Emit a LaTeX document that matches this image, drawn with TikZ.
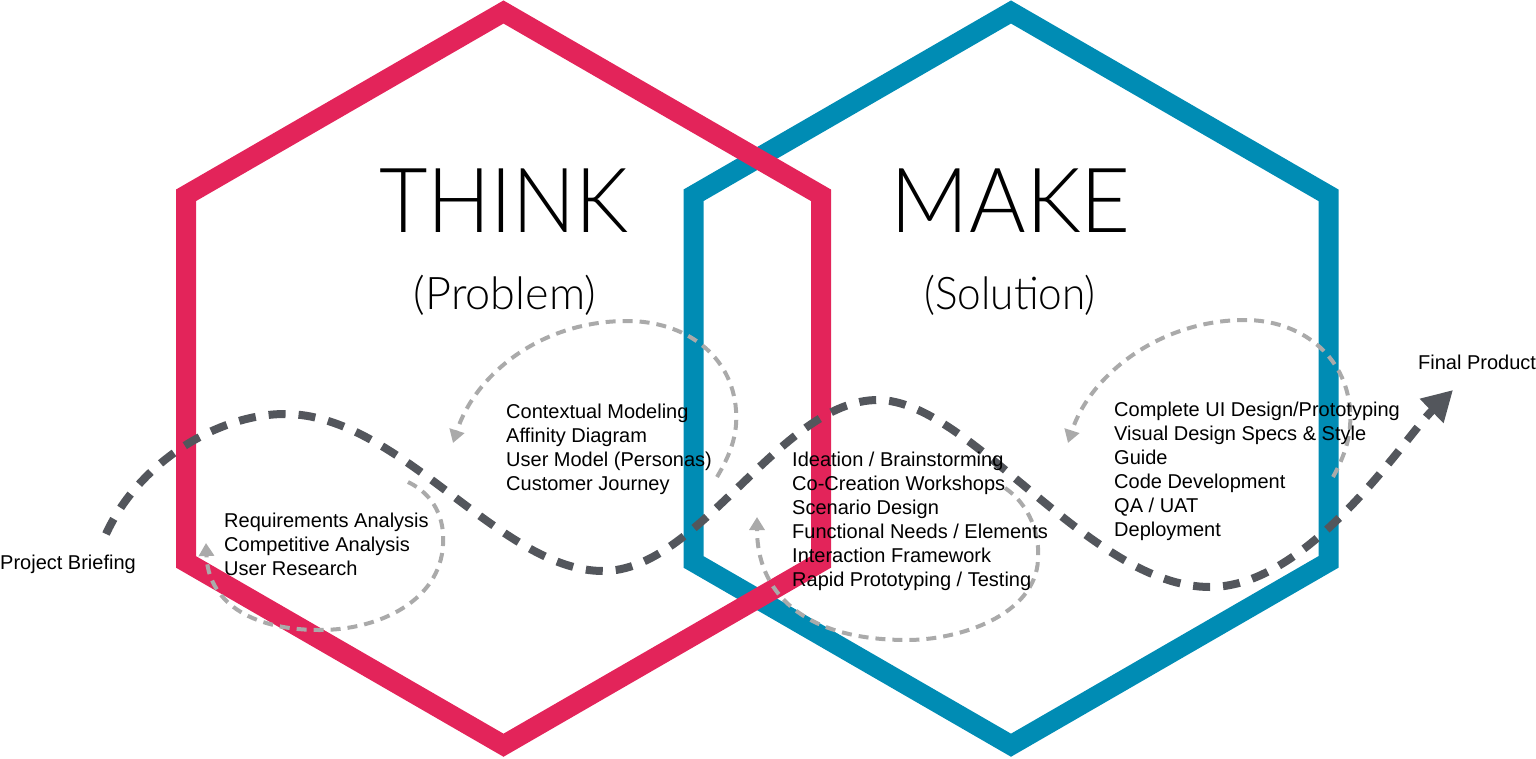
\documentclass[tikz,border=0pt]{standalone}
\usepackage{fontspec}
\setmainfont{Liberation Sans}
\IfFontExistsTF{Lato Light}{\newfontfamily\thinfont{Lato Light}}{%
  \IfFontExistsTF{Lato Thin}{\newfontfamily\thinfont{Lato Thin}}{\newfontfamily\thinfont{Liberation Sans}}}
\usetikzlibrary{arrows.meta}
\definecolor{hexred}{HTML}{E3245A}
\definecolor{hexblue}{HTML}{008CB4}
\definecolor{flowdark}{HTML}{53565C}
\definecolor{loopgray}{HTML}{AAAAAA}
\begin{document}
\begin{tikzpicture}[x=1pt,y=-1pt,
  hexline/.style={line width=20pt, line join=miter, miter limit=4},
  mainflow/.style={draw=flowdark, line width=8pt, dash pattern=on 17pt off 13pt,
    -{Triangle[length=30pt,width=32pt]}},
  loopflow/.style={draw=loopgray, line width=4pt, dash pattern=on 10pt off 7pt,
    -{Triangle[length=13pt,width=15pt]}},
  itemtext/.style={anchor=base west, inner sep=0pt, font=\fontsize{20}{24}\selectfont},
  bigtitle/.style={anchor=base, inner sep=0pt, font=\thinfont\fontsize{90}{90}\selectfont},
  subtitle/.style={anchor=base, inner sep=0pt, font=\thinfont\fontsize{45}{45}\selectfont}]
\useasboundingbox (0,0) rectangle (1536,758);

% hexagons (blue under red)
\draw[hexline, draw=hexblue] (1011,12) -- (1328.5,195.3) -- (1328.5,561.9) -- (1011,745.2)
  -- (693.5,561.9) -- (693.5,195.3) -- cycle;
\draw[hexline, draw=hexred] (503.5,12) -- (821,195.3) -- (821,561.9) -- (503.5,745.2)
  -- (186,561.9) -- (186,195.3) -- cycle;

% titles
\node[bigtitle] (think) at (504,232) {\scalebox{0.93}[1]{THINK}};
\node[subtitle] (problem) at (505,309) {(Problem)};
\node[bigtitle] (make) at (1011,232) {\scalebox{0.96}[1]{MAKE}};
\node[subtitle] (solution) at (1010,309) {\scalebox{0.94}[1]{(Solution)}};

% flow end points
\coordinate (flowstart) at (106,534);
\coordinate (flowend) at (1453,390);

% main dashed flow
\path[mainflow] (flowstart) .. controls (140,460) and (220,414) .. (285,414)
  .. controls (400,414) and (500,571) .. (603,571)
  .. controls (700,571) and (780,400) .. (878,400)
  .. controls (970,400) and (1090,587) .. (1210,587)
  .. controls (1310,587) and (1405,437) .. (flowend);

% iteration loops
\coordinate (l1s) at (408,482);
\coordinate (l1e) at (206,543);
\path[loopflow] (l1s) .. controls (435,495) and (445,520) .. (443,545)
  .. controls (440,600) and (380,630) .. (320,630)
  .. controls (248,630) and (208,600) .. (l1e);

\coordinate (l2s) at (717,477);
\coordinate (l2e) at (453,443);
\path[loopflow] (l2s) .. controls (730,455) and (738,435) .. (736,410)
  .. controls (732,355) and (685,321) .. (627,321)
  .. controls (540,321) and (475,375) .. (l2e);

\coordinate (l3s) at (1005,488);
\coordinate (l3e) at (757,517);
\path[loopflow] (l3s) .. controls (1030,505) and (1040,535) .. (1038,560)
  .. controls (1035,615) and (960,640) .. (907,640)
  .. controls (800,640) and (757,590) .. (l3e);

\coordinate (l4s) at (1333,477);
\coordinate (l4e) at (1068,443);
\path[loopflow] (l4s) .. controls (1345,455) and (1352,435) .. (1350,410)
  .. controls (1346,355) and (1300,320) .. (1245,320)
  .. controls (1160,320) and (1090,375) .. (l4e);

% texts
\node[itemtext] (brief) at (0,569) {Project Briefing};
\node[itemtext] (final) at (1418,369) {Final Product};
\node[itemtext] (req) at (224,527) {\parbox[t]{400pt}{\raggedright
  Requirements Analysis\\Competitive Analysis\\User Research}};
\node[itemtext] (ctx) at (506,418) {\parbox[t]{400pt}{\raggedright
  Contextual Modeling\\Affinity Diagram\\User Model (Personas)\\Customer Journey}};
\node[itemtext] (idea) at (792,466) {\parbox[t]{400pt}{\raggedright
  Ideation / Brainstorming\\Co-Creation Workshops\\Scenario Design\\Functional Needs / Elements\\Interaction Framework\\Rapid Prototyping / Testing}};
\node[itemtext] (ui) at (1114,416) {\parbox[t]{400pt}{\raggedright
  Complete UI Design/Prototyping\\Visual Design Specs \& Style\\Guide\\Code Development\\QA / UAT\\Deployment}};
\end{tikzpicture}
\end{document}
